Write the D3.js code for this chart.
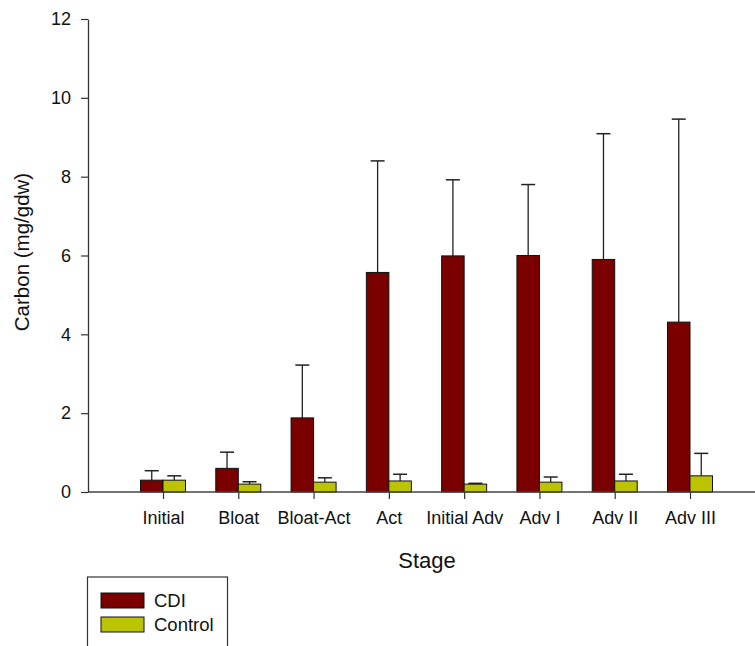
<!DOCTYPE html>
<html>
<head>
<meta charset="utf-8">
<script src="https://cdn.jsdelivr.net/npm/d3@7"></script>
<style>
  body { margin: 0; background: #fff; }
  svg { display: block; font-family: "Liberation Sans", Arial, sans-serif; }
</style>
</head>
<body>
<svg id="chart" width="755" height="646"></svg>
<script>
// stages along the x axis
var stages = ["Initial", "Bloat", "Bloat-Act", "Act", "Initial Adv", "Adv I", "Adv II", "Adv III"];
var series = ["CDI", "Control"];

// mean values
var cdiMean = [0.30, 0.60, 1.88, 5.57, 5.99, 6.00, 5.90, 4.31];
var controlMean = [0.30, 0.20, 0.25, 0.28, 0.20, 0.25, 0.28, 0.41];
// top of the error bar (mean + sd)
var cdiUpper = [0.54, 1.01, 3.22, 8.40, 7.92, 7.80, 9.09, 9.46];
var controlUpper = [0.41, 0.26, 0.36, 0.45, 0.22, 0.38, 0.45, 0.98];

var yTicks = [0, 2, 4, 6, 8, 10, 12];
var colors = ["#7a0000", "#bcc400"];

var svg = d3.select("#chart");
var margin = { top: 19, left: 88 },
    plotBottom = 492,
    plotRight = 755;

var x = d3.scalePoint()
    .domain(stages)
    .range([163, 690]);

var y = d3.scaleLinear()
    .domain([0, 12])
    .range([plotBottom, margin.top]);

var barW = 22.5;

var data = stages.map(function (s, i) {
    return {
        stage: s,
        values: [
            { name: "CDI", mean: cdiMean[i], upper: cdiUpper[i] },
            { name: "Control", mean: controlMean[i], upper: controlUpper[i] }
        ]
    };
});

var slice = svg.selectAll(".slice")
    .data(data)
    .enter().append("g")
    .attr("class", "slice")
    .attr("transform", function (d) { return "translate(" + x(d.stage) + ",0)"; });

// error bars first so the bars sit on top of the lower part
slice.selectAll(".err")
    .data(function (d) { return d.values; })
    .enter().append("g")
    .attr("class", "err")
    .each(function (d, i) {
        var cx = i === 0 ? -barW / 2 : barW / 2;
        var g = d3.select(this);
        g.append("line")
            .attr("x1", cx).attr("x2", cx)
            .attr("y1", y(d.mean)).attr("y2", y(d.upper))
            .attr("stroke", "#222").attr("stroke-width", 1.3);
        g.append("line")
            .attr("x1", cx - 7).attr("x2", cx + 7)
            .attr("y1", y(d.upper)).attr("y2", y(d.upper))
            .attr("stroke", "#222").attr("stroke-width", 1.5);
    });

slice.selectAll("rect")
    .data(function (d) { return d.values; })
    .enter().append("rect")
    .attr("x", function (d, i) { return i === 0 ? -barW : 0; })
    .attr("y", function (d) { return y(d.mean); })
    .attr("width", barW)
    .attr("height", function (d) { return plotBottom - y(d.mean); })
    .attr("fill", function (d, i) { return colors[i]; })
    .attr("stroke", "#111")
    .attr("stroke-width", 1);

// axes
var xAxis = svg.append("g")
    .attr("transform", "translate(0," + plotBottom + ")")
    .call(d3.axisBottom(x).tickSize(7).tickPadding(12));
xAxis.select(".domain").remove();
xAxis.append("line")
    .attr("x1", margin.left).attr("x2", plotRight)
    .attr("stroke", "#444").attr("stroke-width", 1.3);
xAxis.selectAll(".tick line").attr("stroke", "#333").attr("stroke-width", 1.2);
xAxis.selectAll("text")
    .attr("fill", "#111")
    .attr("font-size", 18);

var yAxis = svg.append("g")
    .attr("transform", "translate(" + margin.left + ",0)")
    .call(d3.axisLeft(y).tickValues(yTicks).tickSize(7).tickPadding(10).tickSizeOuter(0));
yAxis.select(".domain").attr("stroke", "#333").attr("stroke-width", 1.3);
yAxis.selectAll(".tick line").attr("stroke", "#333").attr("stroke-width", 1.2);
yAxis.selectAll("text")
    .attr("fill", "#111")
    .attr("font-size", 18);

// axis titles
svg.append("text")
    .attr("x", 427)
    .attr("y", 568)
    .attr("text-anchor", "middle")
    .attr("fill", "#111")
    .attr("font-size", 22)
    .text("Stage");

svg.append("text")
    .attr("transform", "translate(29,252) rotate(-90)")
    .attr("text-anchor", "middle")
    .attr("fill", "#111")
    .attr("font-size", 20.5)
    .text("Carbon (mg/gdw)");

// legend
var legend = svg.append("g").attr("class", "legend");
legend.append("rect")
    .attr("x", 87.5).attr("y", 577)
    .attr("width", 140).attr("height", 80)
    .attr("fill", "none")
    .attr("stroke", "#333").attr("stroke-width", 1.2);

var items = legend.selectAll(".item")
    .data(series)
    .enter().append("g")
    .attr("class", "item")
    .attr("transform", function (d, i) { return "translate(101," + (593 + i * 24) + ")"; });

items.append("rect")
    .attr("width", 43).attr("height", 15)
    .attr("fill", function (d, i) { return colors[i]; })
    .attr("stroke", "#111").attr("stroke-width", 1);

items.append("text")
    .attr("x", 53).attr("y", 14)
    .attr("fill", "#111")
    .attr("font-size", 18.5)
    .text(function (d) { return d; });
</script>
</body>
</html>
